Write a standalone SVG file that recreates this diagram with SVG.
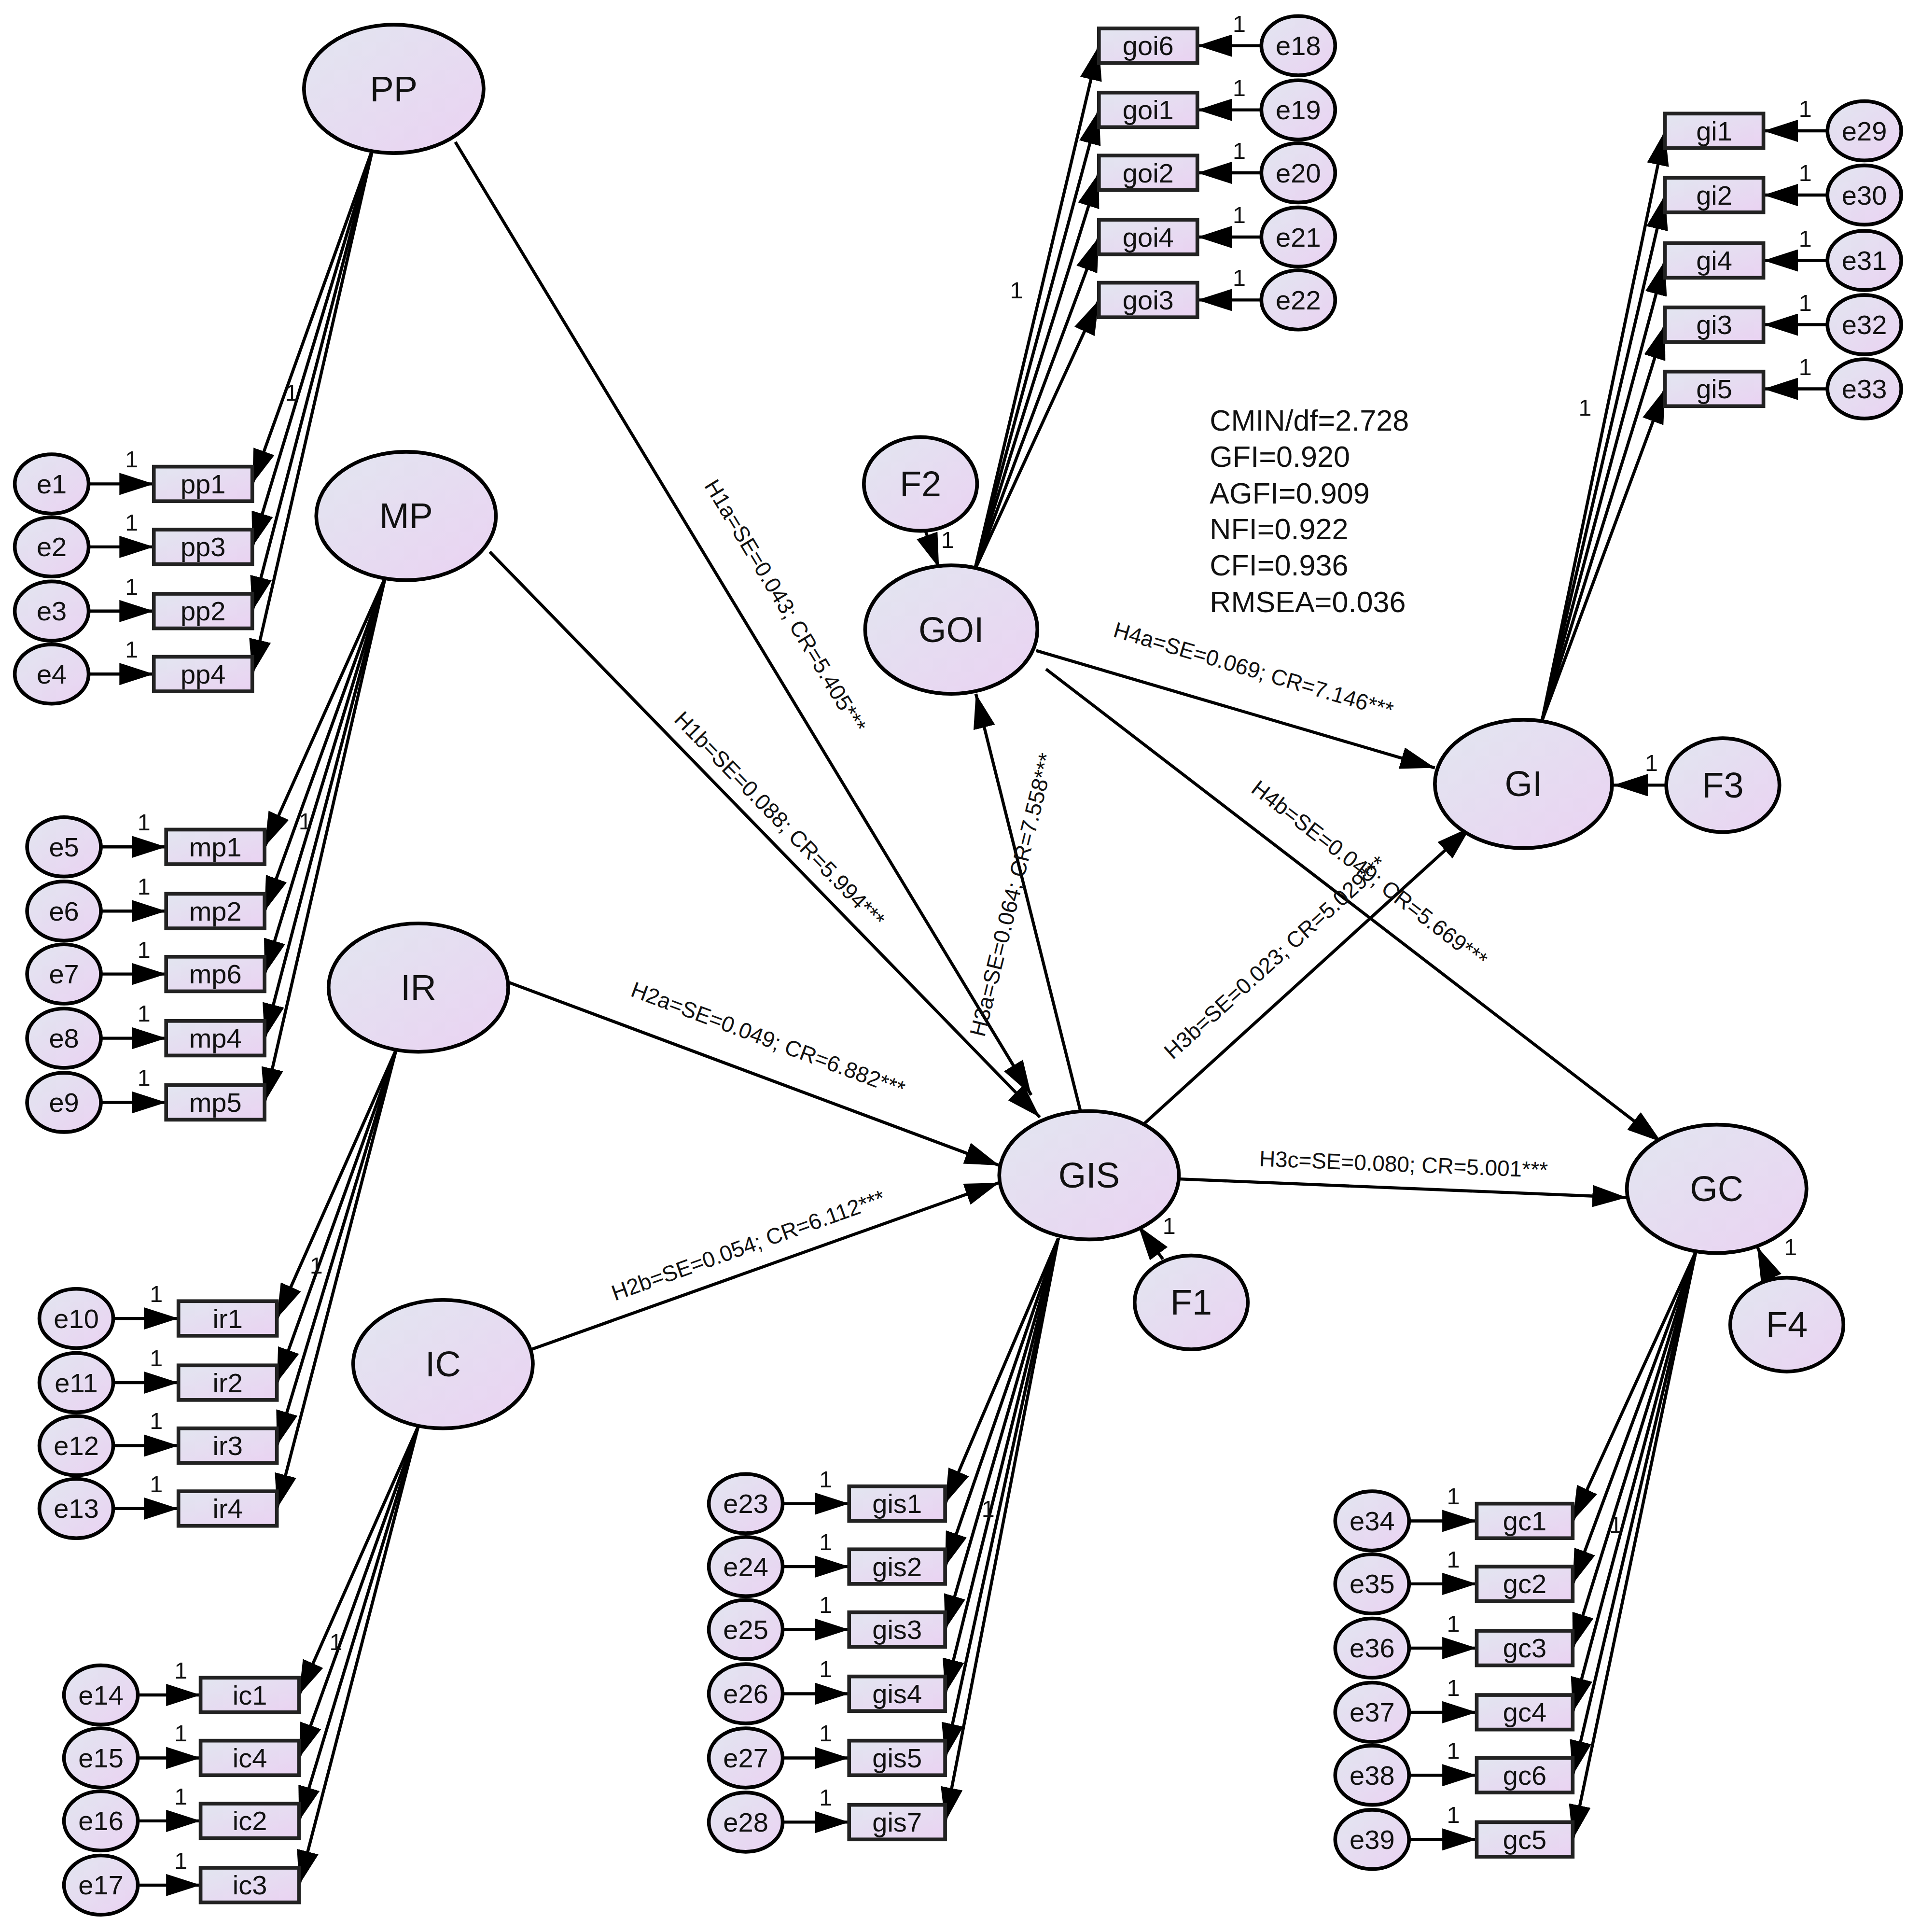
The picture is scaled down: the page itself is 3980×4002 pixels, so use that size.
<svg xmlns="http://www.w3.org/2000/svg" width="3980" height="4002" viewBox="0 0 3980 4002">
<style>
.n{fill:url(#g);stroke:#000;stroke-width:3}
.b{fill:url(#g);stroke:#222;stroke-width:3}
.t{font-family:"Liberation Sans",Arial,sans-serif;fill:#111;text-anchor:middle;dominant-baseline:central}
.lt{font-size:29px}.st{font-size:22px}.pl{font-size:18px}.one{font-size:19px}
.c line{stroke:#000;stroke-width:2.5;marker-end:url(#a)}
.fit{font-family:"Liberation Sans",Arial,sans-serif;font-size:24px;fill:#111}
</style>
<defs>
<linearGradient id="g" x1="0" y1="0" x2="1" y2="1"><stop offset="0" stop-color="#e2e6f0"/><stop offset="1" stop-color="#ead2f2"/></linearGradient>
<marker id="a" markerUnits="userSpaceOnUse" markerWidth="28" markerHeight="18" refX="28" refY="9" orient="auto"><path d="M0,0 L28,9 L0,18 z" fill="#000"/></marker>
</defs>
<rect width="3980" height="4002" fill="#fff"/>
<g transform="scale(2.5496,2.5572)">
<g class="c" id="connectors">
<line x1="303" y1="120" x2="205" y2="392"/><line x1="303" y1="120" x2="205" y2="443"/><line x1="303" y1="120" x2="205" y2="495"/><line x1="303" y1="120" x2="205" y2="546"/>
<line x1="313" y1="468" x2="215" y2="686"/><line x1="313" y1="468" x2="215" y2="738"/><line x1="313" y1="468" x2="215" y2="789"/><line x1="313" y1="468" x2="215" y2="841"/><line x1="313" y1="468" x2="215" y2="893"/>
<line x1="322" y1="850" x2="225" y2="1068"/><line x1="322" y1="850" x2="225" y2="1120"/><line x1="322" y1="850" x2="225" y2="1171"/><line x1="322" y1="850" x2="225" y2="1222"/>
<line x1="340" y1="1155" x2="243" y2="1373"/><line x1="340" y1="1155" x2="243" y2="1424"/><line x1="340" y1="1155" x2="243" y2="1475"/><line x1="340" y1="1155" x2="243" y2="1527"/>
<line x1="860" y1="1003" x2="768" y2="1218"/><line x1="860" y1="1003" x2="768" y2="1269"/><line x1="860" y1="1003" x2="768" y2="1320"/><line x1="860" y1="1003" x2="768" y2="1372"/><line x1="860" y1="1003" x2="768" y2="1424"/><line x1="860" y1="1003" x2="768" y2="1476"/>
<line x1="1378" y1="1014" x2="1278" y2="1232"/><line x1="1378" y1="1014" x2="1278" y2="1283"/><line x1="1378" y1="1014" x2="1278" y2="1335"/><line x1="1378" y1="1014" x2="1278" y2="1387"/><line x1="1378" y1="1014" x2="1278" y2="1438"/><line x1="1378" y1="1014" x2="1278" y2="1490"/>
<line x1="792" y1="462" x2="893" y2="37"/><line x1="792" y1="462" x2="893" y2="89"/><line x1="792" y1="462" x2="893" y2="140"/><line x1="792" y1="462" x2="893" y2="192"/><line x1="792" y1="462" x2="893" y2="243"/>
<line x1="1253" y1="584" x2="1353" y2="106"/><line x1="1253" y1="584" x2="1353" y2="158"/><line x1="1253" y1="584" x2="1353" y2="211"/><line x1="1253" y1="584" x2="1353" y2="263"/><line x1="1253" y1="584" x2="1353" y2="315"/>
<line x1="72" y1="392" x2="125" y2="392"/><line x1="72" y1="443" x2="125" y2="443"/><line x1="72" y1="495" x2="125" y2="495"/><line x1="72" y1="546" x2="125" y2="546"/>
<line x1="82" y1="686" x2="135" y2="686"/><line x1="82" y1="738" x2="135" y2="738"/><line x1="82" y1="789" x2="135" y2="789"/><line x1="82" y1="841" x2="135" y2="841"/><line x1="82" y1="893" x2="135" y2="893"/>
<line x1="92" y1="1068" x2="145" y2="1068"/><line x1="92" y1="1120" x2="145" y2="1120"/><line x1="92" y1="1171" x2="145" y2="1171"/><line x1="92" y1="1222" x2="145" y2="1222"/>
<line x1="112" y1="1373" x2="163" y2="1373"/><line x1="112" y1="1424" x2="163" y2="1424"/><line x1="112" y1="1475" x2="163" y2="1475"/><line x1="112" y1="1527" x2="163" y2="1527"/>
<line x1="636" y1="1218" x2="690" y2="1218"/><line x1="636" y1="1269" x2="690" y2="1269"/><line x1="636" y1="1320" x2="690" y2="1320"/><line x1="636" y1="1372" x2="690" y2="1372"/><line x1="636" y1="1424" x2="690" y2="1424"/><line x1="636" y1="1476" x2="690" y2="1476"/>
<line x1="1145" y1="1232" x2="1200" y2="1232"/><line x1="1145" y1="1283" x2="1200" y2="1283"/><line x1="1145" y1="1335" x2="1200" y2="1335"/><line x1="1145" y1="1387" x2="1200" y2="1387"/><line x1="1145" y1="1438" x2="1200" y2="1438"/><line x1="1145" y1="1490" x2="1200" y2="1490"/>
<line x1="1025" y1="37" x2="973" y2="37"/><line x1="1025" y1="89" x2="973" y2="89"/><line x1="1025" y1="140" x2="973" y2="140"/><line x1="1025" y1="192" x2="973" y2="192"/><line x1="1025" y1="243" x2="973" y2="243"/>
<line x1="1485" y1="106" x2="1433" y2="106"/><line x1="1485" y1="158" x2="1433" y2="158"/><line x1="1485" y1="211" x2="1433" y2="211"/><line x1="1485" y1="263" x2="1433" y2="263"/><line x1="1485" y1="315" x2="1433" y2="315"/>
<line x1="370" y1="115" x2="838" y2="887"/>
<line x1="398" y1="447" x2="845" y2="905"/>
<line x1="414" y1="796" x2="812" y2="944"/>
<line x1="432" y1="1093" x2="812" y2="958"/>
<line x1="878" y1="900" x2="793" y2="562"/>
<line x1="930" y1="910" x2="1195" y2="670"/>
<line x1="958" y1="955" x2="1322" y2="970"/>
<line x1="842" y1="527" x2="1166" y2="622"/>
<line x1="850" y1="542" x2="1350" y2="925"/>
<line x1="752" y1="430" x2="763" y2="460"/>
<line x1="945" y1="1020" x2="925" y2="993"/>
<line x1="1355" y1="636" x2="1311" y2="636"/>
<line x1="1440" y1="1037" x2="1428" y2="1010"/>
</g>
<g class="t pl">
<text transform="translate(628,497) rotate(58.8)" y="-12">H1a=SE=0.043; CR=5.405***</text>
<text transform="translate(625,672) rotate(45.7)" y="-12">H1b=SE=0.088; CR=5.994***</text>
<text transform="translate(620,853) rotate(20.4)" y="-12">H2a=SE=0.049; CR=6.882***</text>
<text transform="translate(612,1020) rotate(-19.6)" y="-12">H2b=SE=0.054; CR=6.112***</text>
<text transform="translate(835,728) rotate(-76)" y="-13">H3a=SE=0.064; CR=7.558***</text>
<text transform="translate(1045,785) rotate(-42)" y="-13">H3b=SE=0.023; CR=5.029***</text>
<text transform="translate(1140,956) rotate(2.3)" y="-13">H3c=SE=0.080; CR=5.001***</text>
<text transform="translate(1015,555) rotate(16.3)" y="-13">H4a=SE=0.069; CR=7.146***</text>
<text transform="translate(1105,718) rotate(37.5)" y="-13">H4b=SE=0.049; CR=5.669***</text>
</g>
<g class="t one">
<text x="237" y="318">1</text><text x="248" y="665">1</text><text x="257" y="1025">1</text><text x="273" y="1330">1</text>
<text x="803" y="1222">1</text><text x="1313" y="1235">1</text><text x="826" y="235">1</text><text x="1288" y="330">1</text>
<text x="770" y="437">1</text><text x="950" y="993">1</text><text x="1342" y="618">1</text><text x="1455" y="1010">1</text>
<text x="107" y="372">1</text><text x="107" y="423">1</text><text x="107" y="475">1</text><text x="107" y="526">1</text>
<text x="117" y="666">1</text><text x="117" y="718">1</text><text x="117" y="769">1</text><text x="117" y="821">1</text><text x="117" y="873">1</text>
<text x="127" y="1048">1</text><text x="127" y="1100">1</text><text x="127" y="1151">1</text><text x="127" y="1202">1</text>
<text x="147" y="1353">1</text><text x="147" y="1404">1</text><text x="147" y="1455">1</text><text x="147" y="1507">1</text>
<text x="671" y="1198">1</text><text x="671" y="1249">1</text><text x="671" y="1300">1</text><text x="671" y="1352">1</text><text x="671" y="1404">1</text><text x="671" y="1456">1</text>
<text x="1181" y="1212">1</text><text x="1181" y="1263">1</text><text x="1181" y="1315">1</text><text x="1181" y="1367">1</text><text x="1181" y="1418">1</text><text x="1181" y="1470">1</text>
<text x="1007" y="19">1</text><text x="1007" y="71">1</text><text x="1007" y="122">1</text><text x="1007" y="174">1</text><text x="1007" y="225">1</text>
<text x="1467" y="88">1</text><text x="1467" y="140">1</text><text x="1467" y="193">1</text><text x="1467" y="245">1</text><text x="1467" y="297">1</text>
</g>
<g class="fit"><text x="983" y="349">CMIN/df=2.728</text><text x="983" y="378">GFI=0.920</text><text x="983" y="408">AGFI=0.909</text><text x="983" y="437">NFI=0.922</text><text x="983" y="466">CFI=0.936</text><text x="983" y="496">RMSEA=0.036</text></g>
<g id="PP"><ellipse class="n" cx="320" cy="72" rx="73" ry="52"/><text class="t lt" x="320" y="72">PP</text></g>
<g id="MP"><ellipse class="n" cx="330" cy="418" rx="73" ry="52"/><text class="t lt" x="330" y="418">MP</text></g>
<g id="IR"><ellipse class="n" cx="340" cy="800" rx="73" ry="52"/><text class="t lt" x="340" y="800">IR</text></g>
<g id="IC"><ellipse class="n" cx="360" cy="1105" rx="73" ry="52"/><text class="t lt" x="360" y="1105">IC</text></g>
<g id="GOI"><ellipse class="n" cx="773" cy="510" rx="70" ry="52"/><text class="t lt" x="773" y="510">GOI</text></g>
<g id="GIS"><ellipse class="n" cx="885" cy="952" rx="73" ry="52"/><text class="t lt" x="885" y="952">GIS</text></g>
<g id="GI"><ellipse class="n" cx="1238" cy="635" rx="72" ry="52"/><text class="t lt" x="1238" y="635">GI</text></g>
<g id="GC"><ellipse class="n" cx="1395" cy="963" rx="73" ry="52"/><text class="t lt" x="1395" y="963">GC</text></g>
<g id="F2"><ellipse class="n" cx="748" cy="392" rx="46" ry="38"/><text class="t lt" x="748" y="392">F2</text></g>
<g id="F1"><ellipse class="n" cx="968" cy="1055" rx="46" ry="38"/><text class="t lt" x="968" y="1055">F1</text></g>
<g id="F3"><ellipse class="n" cx="1400" cy="636" rx="46" ry="38"/><text class="t lt" x="1400" y="636">F3</text></g>
<g id="F4"><ellipse class="n" cx="1452" cy="1073" rx="46" ry="38"/><text class="t lt" x="1452" y="1073">F4</text></g>
<g id="pp1"><rect class="b" x="125" y="378" width="80" height="28"/><text class="t st" x="165" y="392">pp1</text></g>
<g id="pp3"><rect class="b" x="125" y="429" width="80" height="28"/><text class="t st" x="165" y="443">pp3</text></g>
<g id="pp2"><rect class="b" x="125" y="481" width="80" height="28"/><text class="t st" x="165" y="495">pp2</text></g>
<g id="pp4"><rect class="b" x="125" y="532" width="80" height="28"/><text class="t st" x="165" y="546">pp4</text></g>
<g id="mp1"><rect class="b" x="135" y="672" width="80" height="28"/><text class="t st" x="175" y="686">mp1</text></g>
<g id="mp2"><rect class="b" x="135" y="724" width="80" height="28"/><text class="t st" x="175" y="738">mp2</text></g>
<g id="mp6"><rect class="b" x="135" y="775" width="80" height="28"/><text class="t st" x="175" y="789">mp6</text></g>
<g id="mp4"><rect class="b" x="135" y="827" width="80" height="28"/><text class="t st" x="175" y="841">mp4</text></g>
<g id="mp5"><rect class="b" x="135" y="879" width="80" height="28"/><text class="t st" x="175" y="893">mp5</text></g>
<g id="ir1"><rect class="b" x="145" y="1054" width="80" height="28"/><text class="t st" x="185" y="1068">ir1</text></g>
<g id="ir2"><rect class="b" x="145" y="1106" width="80" height="28"/><text class="t st" x="185" y="1120">ir2</text></g>
<g id="ir3"><rect class="b" x="145" y="1157" width="80" height="28"/><text class="t st" x="185" y="1171">ir3</text></g>
<g id="ir4"><rect class="b" x="145" y="1208" width="80" height="28"/><text class="t st" x="185" y="1222">ir4</text></g>
<g id="ic1"><rect class="b" x="163" y="1359" width="80" height="28"/><text class="t st" x="203" y="1373">ic1</text></g>
<g id="ic4"><rect class="b" x="163" y="1410" width="80" height="28"/><text class="t st" x="203" y="1424">ic4</text></g>
<g id="ic2"><rect class="b" x="163" y="1461" width="80" height="28"/><text class="t st" x="203" y="1475">ic2</text></g>
<g id="ic3"><rect class="b" x="163" y="1513" width="80" height="28"/><text class="t st" x="203" y="1527">ic3</text></g>
<g id="gis1"><rect class="b" x="690" y="1204" width="78" height="28"/><text class="t st" x="729" y="1218">gis1</text></g>
<g id="gis2"><rect class="b" x="690" y="1255" width="78" height="28"/><text class="t st" x="729" y="1269">gis2</text></g>
<g id="gis3"><rect class="b" x="690" y="1306" width="78" height="28"/><text class="t st" x="729" y="1320">gis3</text></g>
<g id="gis4"><rect class="b" x="690" y="1358" width="78" height="28"/><text class="t st" x="729" y="1372">gis4</text></g>
<g id="gis5"><rect class="b" x="690" y="1410" width="78" height="28"/><text class="t st" x="729" y="1424">gis5</text></g>
<g id="gis7"><rect class="b" x="690" y="1462" width="78" height="28"/><text class="t st" x="729" y="1476">gis7</text></g>
<g id="gc1"><rect class="b" x="1200" y="1218" width="78" height="28"/><text class="t st" x="1239" y="1232">gc1</text></g>
<g id="gc2"><rect class="b" x="1200" y="1269" width="78" height="28"/><text class="t st" x="1239" y="1283">gc2</text></g>
<g id="gc3"><rect class="b" x="1200" y="1321" width="78" height="28"/><text class="t st" x="1239" y="1335">gc3</text></g>
<g id="gc4"><rect class="b" x="1200" y="1373" width="78" height="28"/><text class="t st" x="1239" y="1387">gc4</text></g>
<g id="gc6"><rect class="b" x="1200" y="1424" width="78" height="28"/><text class="t st" x="1239" y="1438">gc6</text></g>
<g id="gc5"><rect class="b" x="1200" y="1476" width="78" height="28"/><text class="t st" x="1239" y="1490">gc5</text></g>
<g id="goi6"><rect class="b" x="893" y="23" width="80" height="28"/><text class="t st" x="933" y="37">goi6</text></g>
<g id="goi1"><rect class="b" x="893" y="75" width="80" height="28"/><text class="t st" x="933" y="89">goi1</text></g>
<g id="goi2"><rect class="b" x="893" y="126" width="80" height="28"/><text class="t st" x="933" y="140">goi2</text></g>
<g id="goi4"><rect class="b" x="893" y="178" width="80" height="28"/><text class="t st" x="933" y="192">goi4</text></g>
<g id="goi3"><rect class="b" x="893" y="229" width="80" height="28"/><text class="t st" x="933" y="243">goi3</text></g>
<g id="gi1"><rect class="b" x="1353" y="92" width="80" height="28"/><text class="t st" x="1393" y="106">gi1</text></g>
<g id="gi2"><rect class="b" x="1353" y="144" width="80" height="28"/><text class="t st" x="1393" y="158">gi2</text></g>
<g id="gi4"><rect class="b" x="1353" y="197" width="80" height="28"/><text class="t st" x="1393" y="211">gi4</text></g>
<g id="gi3"><rect class="b" x="1353" y="249" width="80" height="28"/><text class="t st" x="1393" y="263">gi3</text></g>
<g id="gi5"><rect class="b" x="1353" y="301" width="80" height="28"/><text class="t st" x="1393" y="315">gi5</text></g>
<g id="e1"><ellipse class="n" cx="42" cy="392" rx="30" ry="24"/><text class="t st" x="42" y="392">e1</text></g>
<g id="e2"><ellipse class="n" cx="42" cy="443" rx="30" ry="24"/><text class="t st" x="42" y="443">e2</text></g>
<g id="e3"><ellipse class="n" cx="42" cy="495" rx="30" ry="24"/><text class="t st" x="42" y="495">e3</text></g>
<g id="e4"><ellipse class="n" cx="42" cy="546" rx="30" ry="24"/><text class="t st" x="42" y="546">e4</text></g>
<g id="e5"><ellipse class="n" cx="52" cy="686" rx="30" ry="24"/><text class="t st" x="52" y="686">e5</text></g>
<g id="e6"><ellipse class="n" cx="52" cy="738" rx="30" ry="24"/><text class="t st" x="52" y="738">e6</text></g>
<g id="e7"><ellipse class="n" cx="52" cy="789" rx="30" ry="24"/><text class="t st" x="52" y="789">e7</text></g>
<g id="e8"><ellipse class="n" cx="52" cy="841" rx="30" ry="24"/><text class="t st" x="52" y="841">e8</text></g>
<g id="e9"><ellipse class="n" cx="52" cy="893" rx="30" ry="24"/><text class="t st" x="52" y="893">e9</text></g>
<g id="e10"><ellipse class="n" cx="62" cy="1068" rx="30" ry="24"/><text class="t st" x="62" y="1068">e10</text></g>
<g id="e11"><ellipse class="n" cx="62" cy="1120" rx="30" ry="24"/><text class="t st" x="62" y="1120">e11</text></g>
<g id="e12"><ellipse class="n" cx="62" cy="1171" rx="30" ry="24"/><text class="t st" x="62" y="1171">e12</text></g>
<g id="e13"><ellipse class="n" cx="62" cy="1222" rx="30" ry="24"/><text class="t st" x="62" y="1222">e13</text></g>
<g id="e14"><ellipse class="n" cx="82" cy="1373" rx="30" ry="24"/><text class="t st" x="82" y="1373">e14</text></g>
<g id="e15"><ellipse class="n" cx="82" cy="1424" rx="30" ry="24"/><text class="t st" x="82" y="1424">e15</text></g>
<g id="e16"><ellipse class="n" cx="82" cy="1475" rx="30" ry="24"/><text class="t st" x="82" y="1475">e16</text></g>
<g id="e17"><ellipse class="n" cx="82" cy="1527" rx="30" ry="24"/><text class="t st" x="82" y="1527">e17</text></g>
<g id="e23"><ellipse class="n" cx="606" cy="1218" rx="30" ry="24"/><text class="t st" x="606" y="1218">e23</text></g>
<g id="e24"><ellipse class="n" cx="606" cy="1269" rx="30" ry="24"/><text class="t st" x="606" y="1269">e24</text></g>
<g id="e25"><ellipse class="n" cx="606" cy="1320" rx="30" ry="24"/><text class="t st" x="606" y="1320">e25</text></g>
<g id="e26"><ellipse class="n" cx="606" cy="1372" rx="30" ry="24"/><text class="t st" x="606" y="1372">e26</text></g>
<g id="e27"><ellipse class="n" cx="606" cy="1424" rx="30" ry="24"/><text class="t st" x="606" y="1424">e27</text></g>
<g id="e28"><ellipse class="n" cx="606" cy="1476" rx="30" ry="24"/><text class="t st" x="606" y="1476">e28</text></g>
<g id="e34"><ellipse class="n" cx="1115" cy="1232" rx="30" ry="24"/><text class="t st" x="1115" y="1232">e34</text></g>
<g id="e35"><ellipse class="n" cx="1115" cy="1283" rx="30" ry="24"/><text class="t st" x="1115" y="1283">e35</text></g>
<g id="e36"><ellipse class="n" cx="1115" cy="1335" rx="30" ry="24"/><text class="t st" x="1115" y="1335">e36</text></g>
<g id="e37"><ellipse class="n" cx="1115" cy="1387" rx="30" ry="24"/><text class="t st" x="1115" y="1387">e37</text></g>
<g id="e38"><ellipse class="n" cx="1115" cy="1438" rx="30" ry="24"/><text class="t st" x="1115" y="1438">e38</text></g>
<g id="e39"><ellipse class="n" cx="1115" cy="1490" rx="30" ry="24"/><text class="t st" x="1115" y="1490">e39</text></g>
<g id="e18"><ellipse class="n" cx="1055" cy="37" rx="30" ry="24"/><text class="t st" x="1055" y="37">e18</text></g>
<g id="e19"><ellipse class="n" cx="1055" cy="89" rx="30" ry="24"/><text class="t st" x="1055" y="89">e19</text></g>
<g id="e20"><ellipse class="n" cx="1055" cy="140" rx="30" ry="24"/><text class="t st" x="1055" y="140">e20</text></g>
<g id="e21"><ellipse class="n" cx="1055" cy="192" rx="30" ry="24"/><text class="t st" x="1055" y="192">e21</text></g>
<g id="e22"><ellipse class="n" cx="1055" cy="243" rx="30" ry="24"/><text class="t st" x="1055" y="243">e22</text></g>
<g id="e29"><ellipse class="n" cx="1515" cy="106" rx="30" ry="24"/><text class="t st" x="1515" y="106">e29</text></g>
<g id="e30"><ellipse class="n" cx="1515" cy="158" rx="30" ry="24"/><text class="t st" x="1515" y="158">e30</text></g>
<g id="e31"><ellipse class="n" cx="1515" cy="211" rx="30" ry="24"/><text class="t st" x="1515" y="211">e31</text></g>
<g id="e32"><ellipse class="n" cx="1515" cy="263" rx="30" ry="24"/><text class="t st" x="1515" y="263">e32</text></g>
<g id="e33"><ellipse class="n" cx="1515" cy="315" rx="30" ry="24"/><text class="t st" x="1515" y="315">e33</text></g>
</g>
</svg>
